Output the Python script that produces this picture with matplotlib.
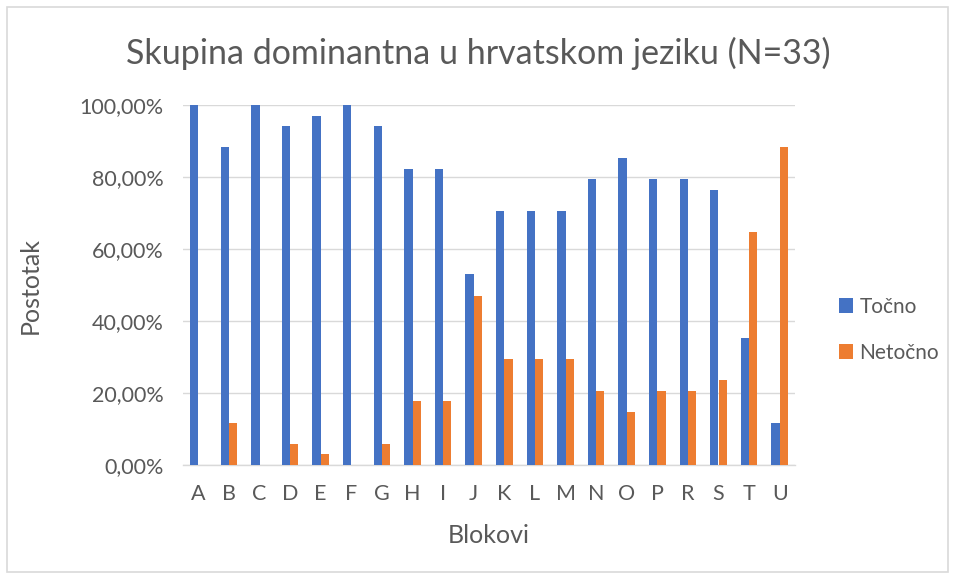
import matplotlib.pyplot as plt
import numpy as np
from matplotlib.ticker import FuncFormatter
from matplotlib.patches import Rectangle

plt.rcParams['font.family'] = ['Lato', 'DejaVu Sans']

blokovi = ['A', 'B', 'C', 'D', 'E', 'F', 'G', 'H', 'I', 'J',
           'K', 'L', 'M', 'N', 'O', 'P', 'R', 'S', 'T', 'U']
tocno = [100.0, 88.24, 100.0, 94.12, 97.06, 100.0, 94.12, 82.35, 82.35, 52.94,
         70.59, 70.59, 70.59, 79.41, 85.29, 79.41, 79.41, 76.47, 35.29, 11.76]
netocno = [0.0, 11.76, 0.0, 5.88, 2.94, 0.0, 5.88, 17.65, 17.65, 47.06,
           29.41, 29.41, 29.41, 20.59, 14.71, 20.59, 20.59, 23.53, 64.71, 88.24]

text_col = '#595959'
blue = '#4472C4'
orange = '#ED7D31'

fig = plt.figure(figsize=(9.57, 5.78), dpi=100)
fig.patches.append(Rectangle((7 / 957, 1 - 572 / 578), 941 / 957, 565 / 578,
                             transform=fig.transFigure, fill=False,
                             edgecolor='#D9D9D9', linewidth=1.2))
ax = fig.add_axes([183 / 957, 1 - 465 / 578, 612 / 957, 360 / 578])

x = np.arange(len(blokovi))
w = 0.27
ax.bar(x - w / 2, tocno, w, color=blue, label='Točno', zorder=3)
ax.bar(x + w / 2, netocno, w, color=orange, label='Netočno', zorder=3)

ax.set_xlim(-0.5, len(blokovi) - 0.5)
ax.set_ylim(0, 100)
ax.set_yticks(np.arange(0, 101, 20))
ax.yaxis.set_major_formatter(FuncFormatter(lambda v, p: f'{v:.2f}%'.replace('.', ',')))
ax.set_xticks(x)
ax.set_xticklabels(blokovi)
ax.grid(axis='y', color='#D9D9D9', linewidth=1, zorder=0)
for s in ['top', 'right', 'left']:
    ax.spines[s].set_visible(False)
ax.spines['bottom'].set_color('#D9D9D9')
ax.spines['bottom'].set_linewidth(1)
ax.tick_params(length=0, labelsize=15.5, colors=text_col)
ax.tick_params(axis='y', pad=14)
ax.tick_params(axis='x', pad=14)

ax.set_xlabel('Blokovi', fontsize=18, color=text_col, labelpad=14)
ax.set_ylabel('Postotak', fontsize=18, color=text_col, labelpad=27)
fig.text(0.5, 1 - 53 / 578, 'Skupina dominantna u hrvatskom jeziku (N=33)',
         ha='center', va='center', fontsize=24.5, color=text_col)

ax.legend(loc='center left', bbox_to_anchor=(820 / 957, 1 - 330 / 578),
          bbox_transform=fig.transFigure, frameon=False, fontsize=15,
          labelcolor=text_col, handlelength=0.7, handleheight=0.7,
          handletextpad=0.3, labelspacing=1.25)

fig.savefig('out.png', dpi=100)
